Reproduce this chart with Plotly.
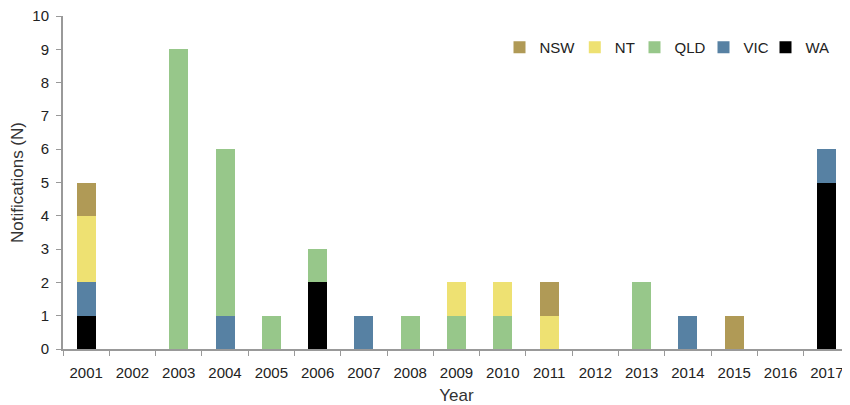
import plotly.graph_objects as go

years = [str(y) for y in range(2001, 2018)]
WA  = [1, 0, 0, 0, 0, 2, 0, 0, 0, 0, 0, 0, 0, 0, 0, 0, 5]
VIC = [1, 0, 0, 1, 0, 0, 1, 0, 0, 0, 0, 0, 0, 1, 0, 0, 1]
QLD = [0, 0, 9, 5, 1, 1, 0, 1, 1, 1, 0, 0, 2, 0, 0, 0, 0]
NT  = [2, 0, 0, 0, 0, 0, 0, 0, 1, 1, 1, 0, 0, 0, 0, 0, 0]
NSW = [1, 0, 0, 0, 0, 0, 0, 0, 0, 0, 1, 0, 0, 0, 1, 0, 0]

series = [
    ("WA", WA, "#000000"),
    ("VIC", VIC, "#5781a3"),
    ("QLD", QLD, "#97c78a"),
    ("NT", NT, "#eee172"),
    ("NSW", NSW, "#b09a56"),
]

# the page body has an 8px margin, so the figure is sized/offset to compensate
legend_px = {"NSW": 491.5, "NT": 566.8, "QLD": 626.5, "VIC": 695.5, "WA": 757.5}
L, R, T, B, W, H = 55, 0, 8, 56, 842, 397
pw = W - L - R
ph = H - T - B

fig = go.Figure()
legend_layout = {}
for i, (name, vals, color) in enumerate(series):
    key = "legend" if i == 0 else f"legend{i + 1}"
    fig.add_trace(go.Bar(x=years, y=vals, name=name, legend=key,
                         marker=dict(color=color, line=dict(width=0))))
    legend_layout[key] = dict(
        orientation="h", x=(legend_px[name] - L) / pw, y=(H - B - 39.5) / ph,
        xanchor="left", yanchor="middle", bgcolor="rgba(0,0,0,0)",
        font=dict(size=15, color="#222222"), itemwidth=30,
    )

font = dict(family="Liberation Sans, Arial, sans-serif", size=14, color="#333333")
fig.update_layout(
    barmode="stack",
    bargap=0.59,
    width=W, height=H,
    margin=dict(l=L, r=R, t=T, b=B, autoexpand=False),
    plot_bgcolor="white", paper_bgcolor="white",
    font=font,
    showlegend=True,
    xaxis=dict(title=dict(text="Year", standoff=10), type="category", tickson="boundaries",
               ticks="outside", ticklen=5, tickcolor="#999999", showline=True, linecolor="#999999",
               linewidth=2, showgrid=False, tickfont=dict(size=15, color="#222222"),
               ticklabelstandoff=9, ticklabeloverflow="allow", automargin=False),
    yaxis=dict(title=dict(text="Notifications (N)", standoff=5), range=[0, 10], dtick=1,
               ticks="outside", ticklen=5, tickcolor="#999999", showline=True, linecolor="#999999",
               linewidth=2, showgrid=False, zeroline=False, tickfont=dict(size=15, color="#222222"),
               ticklabelstandoff=4, ticklabeloverflow="allow", automargin=False),
    **legend_layout,
)
fig.write_html("out.html")
